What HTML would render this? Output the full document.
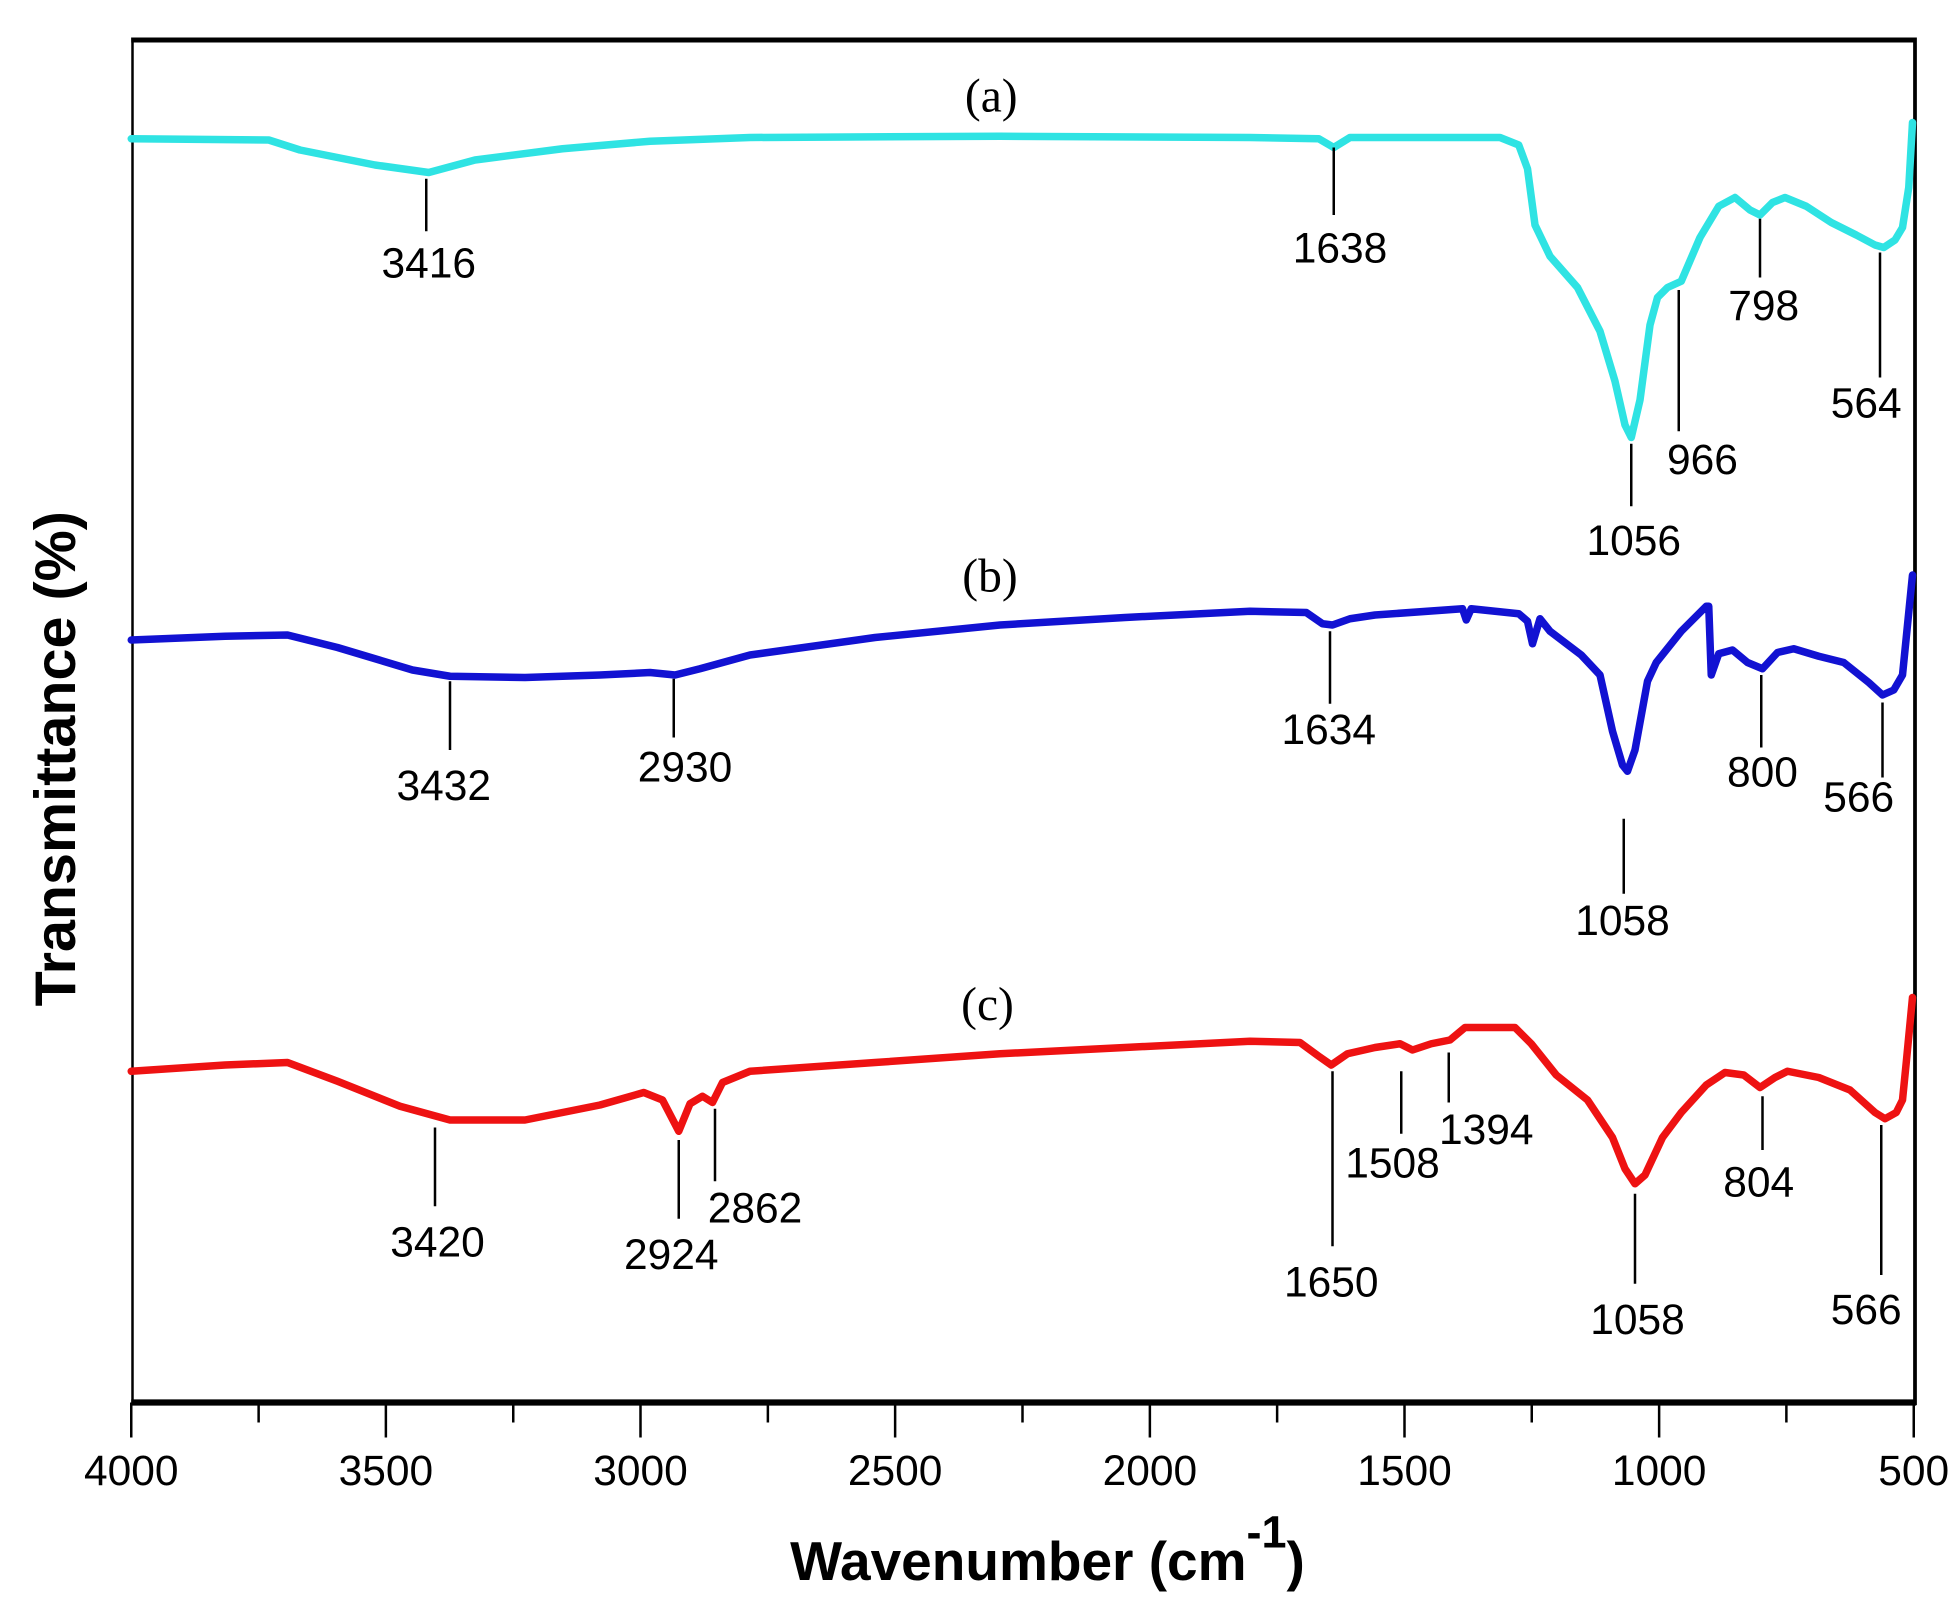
<!DOCTYPE html>
<html><head><meta charset="utf-8"><style>
html,body{margin:0;padding:0;background:#fff;}
svg{display:block;}
text{font-family:"Liberation Sans",Arial,sans-serif;}
</style></head><body>
<svg width="1960" height="1619" viewBox="0 0 1568 1295.2" xmlns="http://www.w3.org/2000/svg">
<rect width="1568" height="1296" fill="#fff"/>
<line x1="105" y1="32" x2="1533" y2="32" stroke="#000" stroke-width="4"/>
<line x1="106" y1="30" x2="106" y2="1124" stroke="#000" stroke-width="2"/>
<line x1="1532" y1="30" x2="1532" y2="1124" stroke="#000" stroke-width="3"/>
<line x1="105" y1="1122" x2="1533" y2="1122" stroke="#000" stroke-width="5"/>
<g stroke="#000" stroke-width="2">
<line x1="105" y1="1122" x2="105" y2="1150"/><line x1="206.9" y1="1122" x2="206.9" y2="1138"/>
<line x1="308.7" y1="1122" x2="308.7" y2="1150"/><line x1="410.6" y1="1122" x2="410.6" y2="1138"/>
<line x1="512.4" y1="1122" x2="512.4" y2="1150"/><line x1="614.3" y1="1122" x2="614.3" y2="1138"/>
<line x1="716.1" y1="1122" x2="716.1" y2="1150"/><line x1="818" y1="1122" x2="818" y2="1138"/>
<line x1="919.9" y1="1122" x2="919.9" y2="1150"/><line x1="1021.7" y1="1122" x2="1021.7" y2="1138"/>
<line x1="1123.6" y1="1122" x2="1123.6" y2="1150"/><line x1="1225.4" y1="1122" x2="1225.4" y2="1138"/>
<line x1="1327.3" y1="1122" x2="1327.3" y2="1150"/><line x1="1429.1" y1="1122" x2="1429.1" y2="1138"/>
<line x1="1531" y1="1122" x2="1531" y2="1150"/>
</g>
<g font-size="34" text-anchor="middle" fill="#000">
<text x="105" y="1188">4000</text><text x="308.7" y="1188">3500</text><text x="512.4" y="1188">3000</text>
<text x="716.1" y="1188">2500</text><text x="919.9" y="1188">2000</text><text x="1123.6" y="1188">1500</text>
<text x="1327.3" y="1188">1000</text><text x="1531" y="1188">500</text>
</g>
<text x="838" y="1264" font-size="44" font-weight="bold" text-anchor="middle">Wavenumber (cm<tspan dy="-26" font-size="36">-1</tspan><tspan dy="26">)</tspan></text>
<text transform="translate(60,607) rotate(-90)" font-size="46" font-weight="bold" text-anchor="middle">Transmittance (%)</text>

<g fill="none" stroke-width="6" stroke-linejoin="round" stroke-linecap="round">
<path stroke="#2fe3e3" d="M105,111 L215,112 L240,120 L300,132 L343,138 L380,128 L450,119 L520,113 L600,110 L800,109 L1000,110 L1055,111 L1067,118 L1080,110 L1200,110 L1215,116 L1222,135 L1228,180 L1240,205 L1262,230 L1280,265 L1292,305 L1300,340 L1305,350 L1312,320 L1320,260 L1326,238 L1334,230 L1345,225 L1360,190 L1375,165 L1388,158 L1400,168 L1408,172 L1418,162 L1428,158 L1445,165 L1465,178 L1485,188 L1500,196 L1507,198 L1516,192 L1522,182 L1527,150 L1530,98"/>
<path stroke="#1212d2" d="M105,512 L180,509 L230,508 L270,518 L330,536 L360,541 L420,542 L480,540 L520,538 L540,540 L560,535 L600,524 L700,510 L800,500 L900,494 L1000,489 L1045,490 L1058,499 L1066,500 L1080,495 L1100,492 L1170,487 L1173,496 L1177,487 L1215,491 L1222,497 L1226,515 L1232,495 L1240,505 L1265,524 L1280,540 L1290,585 L1298,612 L1302,617 L1308,600 L1318,545 L1325,530 L1345,505 L1365,485 L1367,485 L1369,540 L1375,523 L1386,520 L1398,530 L1410,535 L1422,522 L1435,519 L1455,525 L1475,530 L1495,546 L1506,556 L1515,552 L1522,540 L1525,510 L1530,460"/>
<path stroke="#ee1212" d="M105,857 L180,852 L230,850 L270,865 L320,885 L360,896 L420,896 L480,884 L515,874 L530,880 L543,905 L552,883 L562,877 L570,882 L578,866 L600,857 L700,850 L800,843 L900,838 L1000,833 L1040,834 L1055,845 L1065,852 L1078,843 L1100,838 L1120,835 L1130,840 L1145,835 L1160,832 L1172,822 L1212,822 L1225,835 L1245,860 L1270,880 L1290,910 L1300,935 L1308,947 L1316,940 L1330,910 L1345,890 L1365,868 L1380,858 L1395,860 L1408,870 L1420,862 L1430,857 L1455,862 L1480,872 L1500,890 L1508,895 L1517,890 L1522,880 L1525,850 L1530,798"/>
</g>

<g stroke="#000" stroke-width="2">
<line x1="341" y1="143" x2="341" y2="185"/><line x1="1067" y1="118" x2="1067" y2="172"/>
<line x1="1305" y1="355" x2="1305" y2="405"/><line x1="1343" y1="232" x2="1343" y2="345"/>
<line x1="1408" y1="175" x2="1408" y2="222"/><line x1="1504" y1="202" x2="1504" y2="302"/>
<line x1="360" y1="545" x2="360" y2="600"/><line x1="539" y1="543" x2="539" y2="590"/>
<line x1="1064" y1="505" x2="1064" y2="563"/><line x1="1299" y1="655" x2="1299" y2="715"/>
<line x1="1409" y1="540" x2="1409" y2="598"/><line x1="1506" y1="562" x2="1506" y2="622"/>
<line x1="348" y1="902" x2="348" y2="965"/><line x1="543" y1="912" x2="543" y2="975"/>
<line x1="572" y1="887" x2="572" y2="945"/><line x1="1066" y1="857" x2="1066" y2="997"/>
<line x1="1121" y1="857" x2="1121" y2="907"/><line x1="1159" y1="842" x2="1159" y2="882"/>
<line x1="1308" y1="955" x2="1308" y2="1027"/><line x1="1410" y1="877" x2="1410" y2="920"/>
<line x1="1505" y1="900" x2="1505" y2="1020"/>
</g>
<g font-size="34" text-anchor="middle" fill="#000">
<text x="343" y="222">3416</text><text x="1072" y="210">1638</text><text x="1307" y="444">1056</text>
<text x="1362" y="379">966</text><text x="1411" y="256">798</text><text x="1493" y="334">564</text>
<text x="355" y="640">3432</text><text x="548" y="625">2930</text><text x="1063" y="595">1634</text>
<text x="1298" y="748">1058</text><text x="1410" y="629">800</text><text x="1487" y="649">566</text>
<text x="350" y="1005">3420</text><text x="537" y="1015">2924</text><text x="604" y="978">2862</text>
<text x="1065" y="1037">1650</text><text x="1114" y="942">1508</text><text x="1189" y="915">1394</text>
<text x="1310" y="1067">1058</text><text x="1407" y="957">804</text><text x="1493" y="1059">566</text>
</g>
<g font-size="38" text-anchor="middle" fill="#000">
<text x="793" y="89" style="font-family:'Liberation Serif',serif">(a)</text>
<text x="792" y="473" style="font-family:'Liberation Serif',serif">(b)</text>
<text x="790" y="816" style="font-family:'Liberation Serif',serif">(c)</text>
</g>
</svg>
</body></html>
